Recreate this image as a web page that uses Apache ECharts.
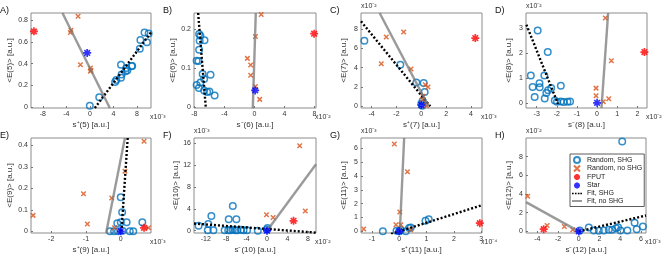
<!DOCTYPE html>
<html><head><meta charset="utf-8">
<script src="https://cdn.jsdelivr.net/npm/echarts@6/dist/echarts.min.js"></script>
<style>html,body{margin:0;padding:0;background:#fff}#c{width:662px;height:258px}</style>
</head><body><div id="c"></div>
<script>
// ---------- DATA (display units: values already divided by the axis multiplier) ----------
// Panel A
const A_shg = [[0,0.01],[1.6,0.09],[4.3,0.23],[4.5,0.25],[5.3,0.27],[5.3,0.39],[5.4,0.30],[6.1,0.33],[6.2,0.36],[6.4,0.34],[7.1,0.38],[7.2,0.38],[8.5,0.54],[8.6,0.62],[9.3,0.69],[9.7,0.60],[10.0,0.68]];
const A_noShg = [[-2.0,0.84],[-3.3,0.69],[-3.2,0.71],[-1.6,0.39],[0.1,0.36],[0.2,0.34],[0.1,0.33]];
const A_fput = [[-9.5,0.70]];
const A_star = [[-0.45,0.50]];
const A_fitShg = [[0.85,-0.01],[10.4,0.69]];
const A_fitNoShg = [[-4.65,0.87],[3.4,-0.01]];
const A_xTicks = [-8,-4,0,4,8];
const A_yTicks = [0,0.2,0.4,0.6,0.8];
// Panel B
const B_shg = [[-7.37,0.187],[-7.2,0.183],[-7.3,0.17],[-6.65,0.171],[-7.37,0.147],[-7.7,0.119],[-7.45,0.118],[-6.9,0.085],[-5.85,0.083],[-6.7,0.072],[-7.2,0.063],[-7.7,0.057],[-7.4,0.049],[-6.7,0.043],[-6.3,0.039],[-6.0,0.04],[-5.3,0.030]];
const B_noShg = [[0.9,0.237],[0.13,0.181],[-0.94,0.125],[-0.5,0.108],[-0.5,0.082],[0.13,0.053],[0.7,0.02]];
const B_fput = [[7.95,0.188]];
const B_star = [[0.1,0.043]];
const B_fitShg = [[-7.5,0.241],[-6.47,-0.003]];
const B_fitNoShg = [[0.18,0.241],[-0.22,-0.003]];
const B_xTicks = [-8,-4,0,4,8];
const B_yTicks = [0,0.1,0.2];
// Panel C
const C_shg = [[-4.58,6.79],[-1.69,4.31],[-0.40,2.48],[0.19,2.41],[0.27,1.48],[0,0.28],[0.08,0.07],[0.1,0.55]];
const C_noShg = [[-2.82,7.17],[-1.42,7.69],[-3.22,4.41],[-0.83,3.86],[0.32,2.24],[0.54,2.0],[0.13,1.03],[0.1,0.7],[0.4,0.07]];
const C_fput = [[4.34,7.07]];
const C_star = [[0,0.14]];
const C_fitShg = [[-4.85,8.8],[0.72,0]];
const C_fitNoShg = [[-3.35,9.66],[0.59,0]];
const C_xTicks = [-4,-2,0,2,4];
const C_yTicks = [0,2,4,6,8];
// Panel D
const D_shg = [[-2.95,2.91],[-2.45,2.04],[-3.29,1.10],[-2.62,1.10],[-2.86,0.79],[-3.2,0.63],[-2.85,0.62],[-2.43,0.50],[-2.28,0.59],[-2.52,0.39],[-1.80,0.68],[-3.10,0.23],[-2.60,0.17],[-1.99,0.04],[-2.10,0.09],[-1.80,0.05],[-1.66,0.03],[-1.47,0.04],[-1.34,0.05]];
const D_noShg = [[0.41,3.41],[0.71,1.69],[-0.05,0.59],[-0.05,0.28],[0.31,0.04],[0.58,0.16]];
const D_fput = [[2.35,2.04]];
const D_star = [[0,0]];
const D_fitShg = [[-3.51,3.14],[-1.94,-0.05]];
const D_fitNoShg = [[0.55,3.61],[0.22,-0.21]];
const D_xTicks = [-3,-2,-1,0,1,2];
const D_yTicks = [0,1,2,3];
// Panel E
const E_shg = [[0,0.158],[0.04,0.088],[-0.1,0.037],[0,0.042],[0.17,0.042],[-0.31,0],[-0.19,0],[-0.08,0],[0.05,0.003],[0.26,0],[0.36,0],[0.62,0.042]];
const E_noShg = [[0.67,0.419],[0.12,0.279],[-1.07,0.175],[-0.26,0.155],[-2.52,0.074],[-0.96,0.034],[-0.18,0.016],[0.8,0.016]];
const E_fput = [[0.67,0.016]];
const E_star = [[0,0]];
const E_fitShg = [[0.2,0.434],[0.02,0]];
const E_fitNoShg = [[0.12,0.434],[-0.42,-0.008]];
const E_xTicks = [-2,-1,0];
const E_yTicks = [0,0.1,0.2,0.3,0.4];
// Panel F
const F_shg = [[-13.4,0.9],[-11.5,1.2],[-10.9,2.7],[-11.6,0.1],[-10.5,0.1],[-7.5,2.1],[-6.7,4.5],[-6.0,2.1],[-8.3,0.1],[-7.6,0.1],[-7.2,0.1],[-6.7,0.15],[-6.2,0.1],[-5.8,0.1],[-5.1,0.15],[-4.6,0.1],[-3.9,0.1],[-1.8,0],[0,0.24],[0.1,0.5]];
const F_noShg = [[6.4,15.5],[-0.1,2.9],[1.2,2.4],[7.5,3.6]];
const F_fput = [[5.2,1.8]];
const F_star = [[0,0]];
const F_fitShg = [[-14.3,1.3],[9.6,-0.35]];
const F_fitNoShg = [[0,0],[9.6,12.1]];
const F_xTicks = [-12,-8,-4,0,4,8];
const F_yTicks = [0,4,8,12,16];
// Panel G
const G_shg = [[-0.6,0],[-0.1,0.05],[0,0],[0.06,0.1],[0.24,0],[0.36,0.24],[0.42,0.28],[0.96,0.76],[1.08,0.87]];
const G_noShg = [[-0.18,6.31],[0.3,4.3],[0.02,1.39],[-0.12,0.47],[0.06,0.47],[-1.3,0.17],[0.42,0.12]];
const G_fput = [[2.95,0.59]];
const G_star = [[0,0]];
const G_fitShg = [[-0.3,-0.19],[3.03,1.89]];
const G_fitNoShg = [[0.18,6.74],[0.02,-0.12]];
const G_xTicks = [-1,0,1,2,3];
const G_yTicks = [0,1,2,3,4,5,6];
// Panel H
const H_shg = [[4.2,9.63],[0.1,0.1],[0.97,0.42],[1.45,0.1],[1.94,0.07],[2.42,0.1],[2.9,0.17],[3.23,0.17],[3.6,0.35],[3.8,0.45],[4.03,0.1],[4.7,0.1],[5.4,0.94],[5.6,0.24],[6.2,0.52]];
const H_noShg = [[-4.94,3.76],[-3.06,0.63],[-1.39,0.52],[-0.58,0.17]];
const H_fput = [[-3.39,0.24]];
const H_star = [[0,0]];
const H_fitShg = [[0,0],[6.5,1.7]];
const H_fitNoShg = [[-5.1,3.13],[0,0]];
const H_xTicks = [-4,-2,0,2,4,6];
const H_yTicks = [0,2,4,6,8];

const seriesNames = ['Random, SHG','Random, no SHG','FPUT','Star','Fit, SHG','Fit, no SHG'];

// ---------- LAYOUT ----------
const FONT = 'Liberation Sans, Arial, sans-serif';
const panels = [
  {k:'A', g:[31,13,120,95],  x:[-10,10.4],  y:[-0.01,0.87], xt:A_xTicks, yt:A_yTicks, xn:'s⁺(5) [a.u.]',  yn:'<E(5)> [a.u.]',  xm:'x10⁻³', ym:null,    d:[A_shg,A_noShg,A_fput,A_star,A_fitShg,A_fitNoShg]},
  {k:'B', g:[194,13,122,95], x:[-8.05,8.2], y:[-0.002,0.241], xt:B_xTicks, yt:B_yTicks, xn:'s⁻(6) [a.u.]', yn:'<E(6)> [a.u.]', xm:'x10⁻²', ym:null,    d:[B_shg,B_noShg,B_fput,B_star,B_fitShg,B_fitNoShg]},
  {k:'C', g:[361,13,121,95], x:[-4.85,4.88], y:[-0.17,9.66], xt:C_xTicks, yt:C_yTicks, xn:'s⁺(7) [a.u.]', yn:'<E(7)> [a.u.]', xm:'x10⁻³', ym:'x10⁻²', d:[C_shg,C_noShg,C_fput,C_star,C_fitShg,C_fitNoShg]},
  {k:'D', g:[526,13,121,95], x:[-3.53,2.48], y:[-0.21,3.61], xt:D_xTicks, yt:D_yTicks, xn:'s⁻(8) [a.u.]', yn:'<E(8)> [a.u.]', xm:'x10⁻²', ym:'x10⁻²', d:[D_shg,D_noShg,D_fput,D_star,D_fitShg,D_fitNoShg]},
  {k:'E', g:[31,138,120,95], x:[-2.58,0.87], y:[-0.008,0.434], xt:E_xTicks, yt:E_yTicks, xn:'s⁺(9) [a.u.]', yn:'<E(9)> [a.u.]', xm:'x10⁻³', ym:null,   d:[E_shg,E_noShg,E_fput,E_star,E_fitShg,E_fitNoShg]},
  {k:'F', g:[194,138,122,95], x:[-14.3,9.6], y:[-0.42,16.9], xt:F_xTicks, yt:F_yTicks, xn:'s⁻(10) [a.u.]', yn:'<E(10)> [a.u.]', xm:'x10⁻²', ym:'x10⁻³', d:[F_shg,F_noShg,F_fput,F_star,F_fitShg,F_fitNoShg]},
  {k:'G', g:[361,138,121,95], x:[-1.4,3.03], y:[-0.12,6.74], xt:G_xTicks, yt:G_yTicks, xn:'s⁺(11) [a.u.]', yn:'<E(11)> [a.u.]', xm:'x10⁻⁴', ym:'x10⁻³', d:[G_shg,G_noShg,G_fput,G_star,G_fitShg,G_fitNoShg]},
  {k:'H', g:[526,138,120,95], x:[-5.1,6.5], y:[-0.17,10.0], xt:H_xTicks, yt:H_yTicks, xn:'s⁻(12) [a.u.]', yn:'<E(12)> [a.u.]', xm:'x10⁻³', ym:'x10⁻²', d:[H_shg,H_noShg,H_fput,H_star,H_fitShg,H_fitNoShg]}
];

const CROSS = 'path://M0,0L10,10M10,0L0,10';
const AST = 'path://M5,0L5,10M0,5L10,5M1.5,1.5L8.5,8.5M8.5,1.5L1.5,8.5';
const DOTS = 'path://M0,0M12,6M0,2h2v2h-2zM3.5,2h2v2h-2zM7,2h2v2h-2zM10,2h2v2h-2z';
const BAR = 'path://M0,0M12,6M0,1.8h12v2.4h-12z';
const labelStyle = {fontSize:7, color:'#333', fontFamily:FONT};
const SHG_BLUE = '#0072BD', NOSHG_OR = '#D95319', FIT_GREY = 'rgba(120,120,120,0.75)';

const grid=[], xAxis=[], yAxis=[], series=[], graphic=[];
panels.forEach((p,i)=>{
  grid.push({left:p.g[0], top:p.g[1], width:p.g[2], height:p.g[3], show:true, borderColor:'#8c8c8c', borderWidth:1, backgroundColor:'#fff'});
  xAxis.push({type:'value', gridIndex:i, min:p.x[0], max:p.x[1],
    axisLine:{show:false, onZero:false}, splitLine:{show:false},
    axisTick:{show:true, inside:true, length:2, customValues:p.xt, lineStyle:{color:'#777'}},
    axisLabel:{customValues:p.xt, margin:3, ...labelStyle},
    name:p.xn, nameLocation:'middle', nameGap:13, nameTextStyle:{fontSize:8, color:'#333', fontFamily:FONT}});
  yAxis.push({type:'value', gridIndex:i, min:p.y[0], max:p.y[1],
    axisLine:{show:false, onZero:false}, splitLine:{show:false},
    axisTick:{show:true, inside:true, length:2, customValues:p.yt, lineStyle:{color:'#777'}},
    axisLabel:{customValues:p.yt, margin:3, ...labelStyle},
    name:p.yn, nameLocation:'middle', nameGap:p.k==='A'||p.k==='B'||p.k==='E'?17:13, nameRotate:90,
    nameTextStyle:{fontSize:8, color:'#333', fontFamily:FONT}});
  series.push({name:seriesNames[0], type:'scatter', xAxisIndex:i, yAxisIndex:i, data:p.d[0], symbol:'circle', symbolSize:6.5,
    itemStyle:{color:'rgba(255,255,255,0)', borderColor:SHG_BLUE, borderWidth:1.5}, z:2});
  series.push({name:seriesNames[1], type:'scatter', xAxisIndex:i, yAxisIndex:i, data:p.d[1], symbol:CROSS, symbolSize:4.5,
    itemStyle:{color:'rgba(255,255,255,0)', borderColor:NOSHG_OR, borderWidth:1.5}, z:2});
  series.push({name:seriesNames[4], type:'line', xAxisIndex:i, yAxisIndex:i, data:p.d[4], symbol:'none', showSymbol:false,
    itemStyle:{color:'#000'}, lineStyle:{color:'#000', width:2.4, type:[2,2]}, z:3, silent:true});
  series.push({name:seriesNames[5], type:'line', xAxisIndex:i, yAxisIndex:i, data:p.d[5], symbol:'none', showSymbol:false,
    itemStyle:{color:FIT_GREY}, lineStyle:{color:FIT_GREY, width:2.4}, z:3, silent:true});
  series.push({name:seriesNames[2], type:'scatter', xAxisIndex:i, yAxisIndex:i, data:p.d[2], symbol:AST, symbolSize:8,
    itemStyle:{color:'rgba(255,255,255,0)', borderColor:'#FF0000', borderWidth:1.7}, z:4});
  series.push({name:seriesNames[3], type:'scatter', xAxisIndex:i, yAxisIndex:i, data:p.d[3], symbol:AST, symbolSize:8,
    itemStyle:{color:'rgba(255,255,255,0)', borderColor:'#0000FF', borderWidth:1.7}, z:5});
  graphic.push({type:'text', left:p.g[0]-31, top:p.g[1]-7, style:{text:p.k+')', fontSize:9, fill:'#111', fontFamily:FONT}});
  graphic.push({type:'text', left:p.g[0]+p.g[2]-1, top:p.g[1]+p.g[3]+6, style:{text:p.xm, fontSize:7, fill:'#333', fontFamily:FONT}});
  if (p.ym) graphic.push({type:'text', left:p.g[0], top:p.g[1]-10, style:{text:p.ym, fontSize:7, fill:'#333', fontFamily:FONT}});
});

const legendData = [
  {name:seriesNames[0]}, {name:seriesNames[1]}, {name:seriesNames[2]}, {name:seriesNames[3]},
  {name:seriesNames[4], icon:DOTS, itemStyle:{color:'#000', borderWidth:0}},
  {name:seriesNames[5], icon:BAR, itemStyle:{color:FIT_GREY, borderWidth:0}}
];

const chart = echarts.init(document.getElementById('c'), null, {renderer:'canvas'});
chart.setOption({
  animation:false,
  backgroundColor:'#fff',
  grid, xAxis, yAxis, series, graphic,
  legend:{data:legendData, orient:'vertical', left:570, top:154, itemWidth:10, itemHeight:6, itemGap:0.5,
    padding:[2,2,2,2], borderColor:'#333', borderWidth:0.8, backgroundColor:'#fff', selectedMode:false,
    textStyle:{fontSize:7, color:'#222', fontFamily:FONT}, z:10}
});
</script></body></html>
